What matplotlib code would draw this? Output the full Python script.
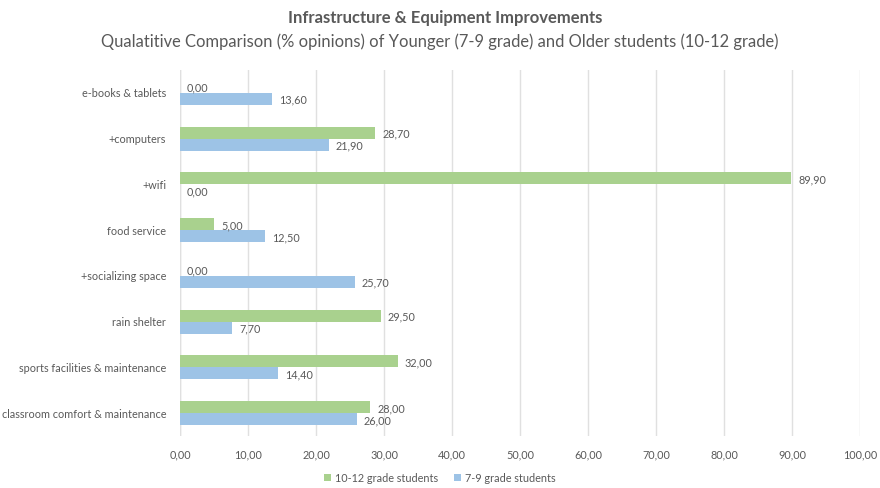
import matplotlib
matplotlib.use("Agg")
import matplotlib.pyplot as plt
import numpy as np

categories = [
    "e-books & tablets",
    "+computers",
    "+wifi",
    "food service",
    "+socializing space",
    "rain shelter",
    "sports facilities & maintenance",
    "classroom comfort & maintenance",
]
older = [0.00, 28.70, 89.90, 5.00, 0.00, 29.50, 32.00, 28.00]    # 10-12 grade
younger = [13.60, 21.90, 0.00, 12.50, 25.70, 7.70, 14.40, 26.00]  # 7-9 grade
xticks = np.arange(0, 101, 10)

GREEN = "#a9d18e"
BLUE = "#9dc3e6"
TEXT = "#595959"
GRID = "#e0e0e0"
FS = 7.8

plt.rcParams["font.family"] = ["Lato", "DejaVu Sans"]

fig = plt.figure(figsize=(8.8, 4.88), dpi=100)
ax = fig.add_axes([180 / 880, 1 - 436 / 488, (860 - 180) / 880, (436 - 70) / 488])

y = np.arange(len(categories))
h = 0.26
ax.barh(y - h / 2, older, height=h, color=GREEN, label="10-12 grade students", zorder=3)
ax.barh(y + h / 2, younger, height=h, color=BLUE, label="7-9 grade students", zorder=3)

fmt = lambda v: f"{v:.2f}".replace(".", ",")
for yi, v in zip(y, older):
    ax.annotate(fmt(v), (v, yi - h / 2), xytext=(5, -1), textcoords="offset points",
                va="center", ha="left", fontsize=FS, color=TEXT)
for yi, v in zip(y, younger):
    ax.annotate(fmt(v), (v, yi + h / 2), xytext=(5, -1), textcoords="offset points",
                va="center", ha="left", fontsize=FS, color=TEXT)

ax.set_xlim(0, 100)
ax.set_ylim(len(categories) - 0.5, -0.5)
ax.set_yticks(y)
ax.set_yticklabels(categories, fontsize=FS, color=TEXT)
ax.set_xticks(xticks)
ax.set_xticklabels([fmt(t) for t in xticks], fontsize=FS, color=TEXT)
ax.tick_params(axis="y", length=0, pad=10)
ax.tick_params(axis="x", length=0, pad=10)
ax.grid(axis="x", color=GRID, linewidth=1.0, zorder=0)
for s in ax.spines.values():
    s.set_visible(False)
ax.axvline(0, color=GRID, linewidth=1.0, zorder=1)

fig.text(445 / 880, 1 - 18 / 488, "Infrastructure & Equipment Improvements", ha="center", va="center",
         fontsize=12, fontweight="bold", color=TEXT)
fig.text(440 / 880, 1 - 42 / 488,
         "Qualatitive Comparison (% opinions) of Younger (7-9 grade) and Older students (10-12 grade)",
         ha="center", va="center", fontsize=11.9, color=TEXT)

fig.legend(loc="center", bbox_to_anchor=(0.5, 1 - 478 / 488), ncol=2, frameon=False,
           fontsize=FS, handlelength=0.6, handleheight=0.6, handletextpad=0.4,
           columnspacing=1.5, labelcolor=TEXT)

fig.savefig("out.png", dpi=100, facecolor="white")
